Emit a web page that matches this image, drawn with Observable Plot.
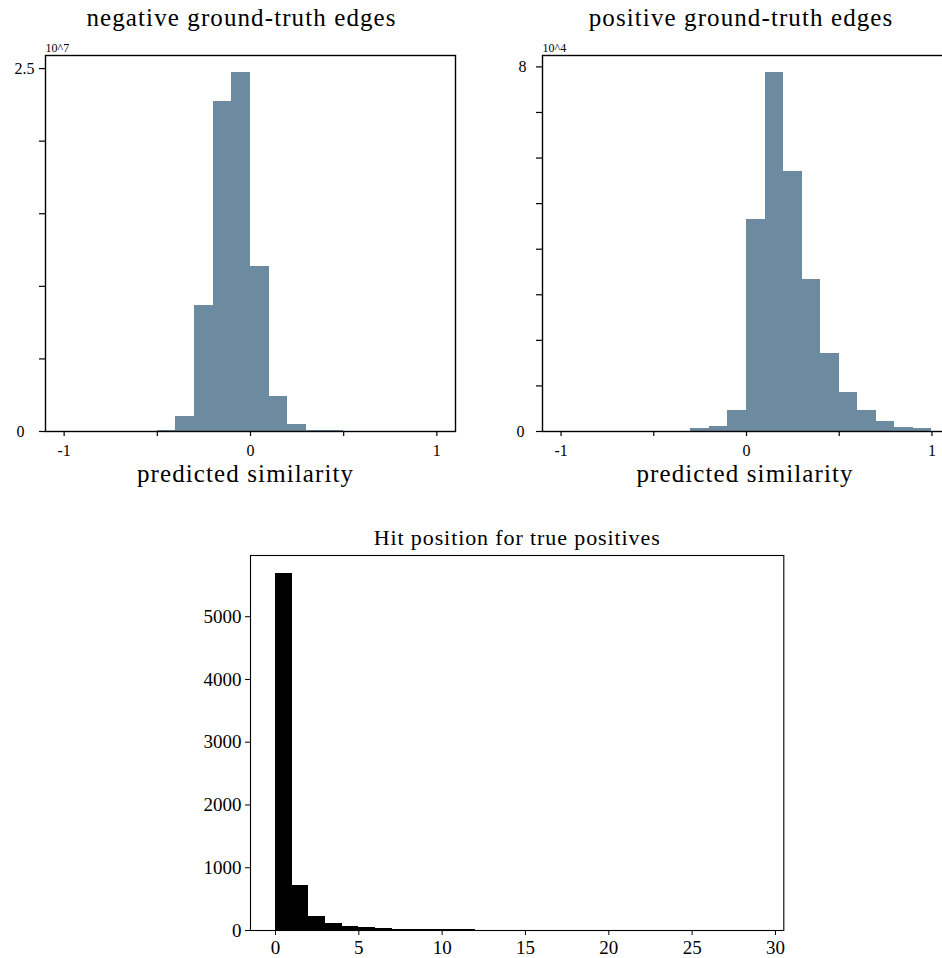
<!DOCTYPE html>
<html><head><meta charset="utf-8">
<script src="https://cdn.jsdelivr.net/npm/d3@7"></script>
<script src="https://cdn.jsdelivr.net/npm/@observablehq/plot@0.6"></script>
<style>
html,body{margin:0;padding:0;background:#fff;overflow:hidden;}
#fig{position:relative;width:942px;height:958px;overflow:hidden;font-family:"Liberation Serif",serif;background:#fff;}
.t{position:absolute;white-space:nowrap;transform:translateX(-50%);color:#000;line-height:1;}
.p{position:absolute;}
</style></head><body><div id="fig"></div><script>
// ---- data ----
const titles = ["negative ground-truth edges", "positive ground-truth edges", "Hit position for true positives"];
const xLabel = "predicted similarity";
const negScaleLabel = "10^7";
const posScaleLabel = "10^4";

// negative edges: bin edges and counts (in units of 10^7)
const negBinLo = [-0.5, -0.4, -0.3, -0.2, -0.1, 0.0, 0.1, 0.2, 0.3, 0.4];
const negBinHi = [-0.4, -0.3, -0.2, -0.1, 0.0, 0.1, 0.2, 0.3, 0.4, 0.5];
const negCounts = [0.007, 0.10, 0.87, 2.27, 2.47, 1.14, 0.24, 0.05, 0.008, 0.006];

// positive edges: bin edges and counts (in units of 10^4)
const posBinLo = [-0.4, -0.3, -0.2, -0.1, 0.0, 0.1, 0.2, 0.3, 0.4, 0.5, 0.6, 0.7, 0.8, 0.9];
const posBinHi = [-0.3, -0.2, -0.1, 0.0, 0.1, 0.2, 0.3, 0.4, 0.5, 0.6, 0.7, 0.8, 0.9, 1.0];
const posCounts = [0.01, 0.06, 0.12, 0.45, 4.65, 7.88, 5.71, 3.34, 1.72, 0.86, 0.45, 0.22, 0.09, 0.06];

// hit positions: bins of width 1 from 0 to 30
const hitBinLo = [0,1,2,3,4,5,6,7,8,9,10,11,12,13,14,15,16,17,18,19,20,21,22,23,24,25,26,27,28,29];
const hitCounts = [5690, 718, 223, 112, 64, 48, 27, 12, 12, 12, 11, 10, 3, 2, 2, 1, 1, 1, 1, 0, 1, 0, 0, 1, 0, 0, 0, 0, 0, 1];

// tick values
const simMajor = [-1, 0, 1];
const simMinor = [-0.5, 0.5];
const negYTop = [2.5];
const negYMinor = [0.5, 1.0, 1.5, 2.0];
const posYTop = [8];
const posYMinor = [1, 2, 3, 4, 5, 6, 7];
const hitXTicks = [0, 5, 10, 15, 20, 25, 30];
const hitYTicks = [0, 1000, 2000, 3000, 4000, 5000];

const barColor = "#6c8aa0";
const fontFam = "'Liberation Serif', serif";

// ---- build ----
const fig = document.getElementById("fig");
function addText(str, cx, baseline, size, spacing) {
  const d = document.createElement("div");
  d.className = "t";
  d.textContent = str;
  d.style.fontSize = size + "px";
  d.style.letterSpacing = (spacing || 0) + "px";
  d.style.left = (cx + (spacing || 0) / 2) + "px";
  d.style.top = (baseline - 0.8375 * size) + "px";
  fig.appendChild(d);
}
function place(svg, left, top) {
  svg.classList.add("p");
  svg.style.left = left + "px";
  svg.style.top = top + "px";
  fig.appendChild(svg);
}
const simFmt = d => (d < 0 ? "-" + Math.abs(d) : String(d));

function simPanel(lo, hi, counts, yMax, yTop, yMinor, scaleLabel, opts) {
  const data = lo.map((l, i) => ({x1: l, x2: hi[i], y: counts[i]}));
  return Plot.plot({
    width: opts.width, height: 464,
    marginLeft: opts.marginLeft, marginRight: 15, marginTop: 19, marginBottom: 69,
    style: {fontFamily: fontFam, fontSize: "16px", background: "white", color: "black", overflow: "visible"},
    x: {domain: [-1.1, 1.1], label: null},
    y: {domain: [0, yMax], label: null},
    marks: [
      Plot.rectY(data, {x1: "x1", x2: "x2", y: "y", fill: barColor, shapeRendering: "crispEdges"}),
      Plot.frame({stroke: "black", strokeWidth: 1.4}),
      Plot.axisX(simMajor, {tickSize: 5, tickPadding: 8, tickFormat: simFmt, label: null, strokeWidth: 1.2, fontSize: 16}),
      Plot.axisX(simMinor, {tickSize: 5, tickFormat: () => "", label: null, strokeWidth: 1.2}),
      Plot.axisY(yTop, {tickSize: 6, tickPadding: opts.topPad, tickFormat: d => String(d), label: null, strokeWidth: 1.2, fontSize: 16}),
      Plot.axisY([0], {tickSize: 6, tickPadding: opts.zeroPad, tickFormat: d => String(d), label: null, strokeWidth: 1.2, fontSize: 16}),
      Plot.axisY(yMinor, {tickSize: 6, tickFormat: () => "", label: null, strokeWidth: 1.2}),
      Plot.text([scaleLabel], {frameAnchor: "top-left", text: d => d, textAnchor: "start", lineAnchor: "bottom", dy: -4, fontSize: 12})
    ]
  });
}

addText(titles[0], 241, 26, 25, 1.1);
addText(titles[1], 740.5, 26, 25, 1.1);
place(simPanel(negBinLo, negBinHi, negCounts, 2.59, negYTop, negYMinor, negScaleLabel,
  {width: 470, marginLeft: 45, topPad: 5, zeroPad: 15}), 0, 36);
place(simPanel(posBinLo, posBinHi, posCounts, 8.25, posYTop, posYMinor, posScaleLabel,
  {width: 495, marginLeft: 72, topPad: 10, zeroPad: 12}), 470, 36);
addText(xLabel, 245, 482, 25, 1.1);
addText(xLabel, 744.5, 482, 25, 1.1);

// bottom panel
const hitData = hitBinLo.map((l, i) => ({x1: l, x2: l + 1, y: hitCounts[i]}));
addText(titles[2], 516.7, 545.5, 22, 0.9);
place(Plot.plot({
  width: 620, height: 408,
  marginLeft: 70, marginRight: 16.7, marginTop: 5, marginBottom: 28,
  style: {fontFamily: fontFam, fontSize: "19px", background: "white", color: "black", overflow: "visible"},
  x: {domain: [-1.5, 30.5], label: null},
  y: {domain: [0, 5975], label: null},
  marks: [
    Plot.rectY(hitData, {x1: "x1", x2: "x2", y: "y", fill: "black", shapeRendering: "crispEdges"}),
    Plot.frame({stroke: "black", strokeWidth: 1.1}),
    Plot.axisX(hitXTicks, {tickSize: 5, tickPadding: 5, tickFormat: d => String(d), label: null, fontSize: 19}),
    Plot.axisY(hitYTicks, {tickSize: 5, tickPadding: 4, tickFormat: d => String(d), label: null, fontSize: 19})
  ]
}), 180, 550);
</script></body></html>
